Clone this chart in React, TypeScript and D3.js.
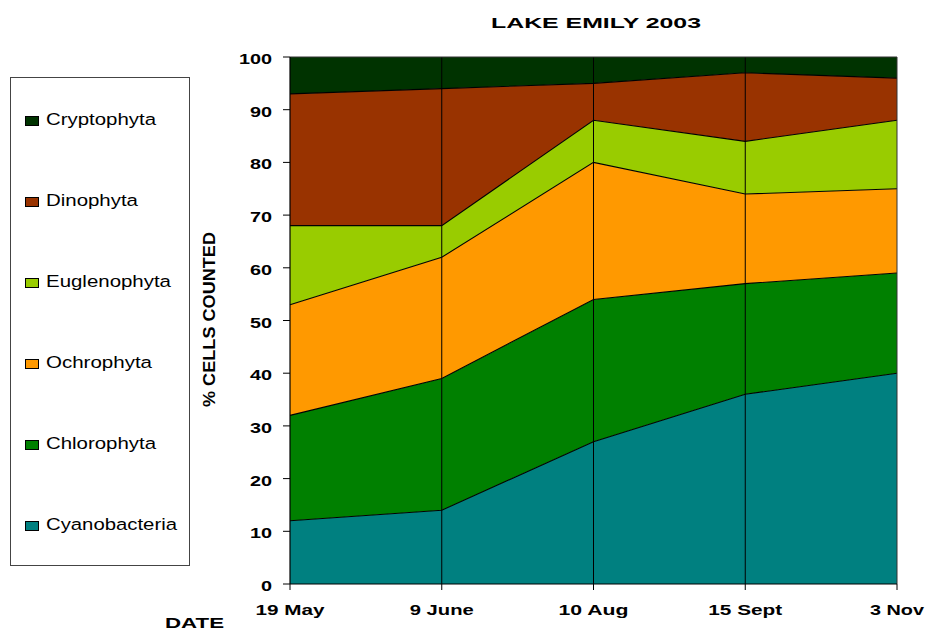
import React from "react";
import * as d3 from "d3";

const dates = ["19 May", "9 June", "10 Aug", "15 Sept", "3 Nov"];
const seriesNames = ["Cyanobacteria", "Chlorophyta", "Ochrophyta", "Euglenophyta", "Dinophyta", "Cryptophyta"];
const cyanobacteria = [12, 14, 27, 36, 40];
const chlorophyta = [20, 25, 27, 21, 19];
const ochrophyta = [21, 23, 26, 17, 16];
const euglenophyta = [15, 6, 8, 10, 13];
const dinophyta = [25, 26, 7, 13, 8];
const cryptophyta = [7, 6, 5, 3, 4];
const colors = ["#008080", "#008000", "#FF9900", "#99CC00", "#993300", "#003300"];
const yTicks = [0, 10, 20, 30, 40, 50, 60, 70, 80, 90, 100];

const seriesValues = [cyanobacteria, chlorophyta, ochrophyta, euglenophyta, dinophyta, cryptophyta];

const xLabelWidths: Record<string, number> = { "19 May": 69, "9 June": 64, "10 Aug": 70, "15 Sept": 74, "3 Nov": 54 };
const legendWidths: Record<string, number> = {
  Cryptophyta: 110,
  Dinophyta: 92,
  Euglenophyta: 125,
  Ochrophyta: 106,
  Chlorophyta: 110,
  Cyanobacteria: 131,
};

export default function App() {
  const W = 929, H = 629;
  const x0 = 290, x1 = 897, yTop = 57, yBot = 584;
  const x = d3.scalePoint<string>().domain(dates).range([x0, x1]);
  const y = d3.scaleLinear().domain([0, 100]).range([yBot, yTop]);
  const table = dates.map((d, i) => {
    const row: any = { date: d };
    seriesNames.forEach((s, j) => (row[s] = seriesValues[j][i]));
    return row;
  });
  const stack = d3.stack<any>().keys(seriesNames)(table);
  const area = d3
    .area<any>()
    .x((d) => x(d.data.date) as number)
    .y0((d) => y(d[0]))
    .y1((d) => y(Math.min(100, d[1])));
  const line = d3
    .line<any>()
    .x((d) => x(d.data.date) as number)
    .y((d) => y(Math.min(100, d[1])));
  const font = "'Liberation Sans', Arial, sans-serif";
  const legendOrder = [...seriesNames].reverse();
  return (
    <svg width={W} height={H} style={{ position: "absolute", left: 0, top: 0, background: "#fff" }} fontFamily={font}>
      <text x={491} y={28} fontWeight="bold" fontSize={15.5} textLength={210} lengthAdjust="spacingAndGlyphs">LAKE EMILY 2003</text>
      {stack.map((s, i) => (
        <path key={s.key} d={area(s) || ""} fill={colors[i]} />
      ))}
      {stack.slice(0, -1).map((s) => (
        <path key={"l" + s.key} d={line(s) || ""} fill="none" stroke="#000" strokeWidth={1.1} />
      ))}
      {dates.slice(1, -1).map((d) => (
        <line key={"v" + d} x1={x(d)} x2={x(d)} y1={yTop} y2={yBot} stroke="#000" strokeWidth={1} />
      ))}
      <line x1={x0} x2={x1} y1={yTop} y2={yTop} stroke="#333" strokeWidth={1} />
      <line x1={x1} x2={x1} y1={yTop} y2={yBot} stroke="#333" strokeWidth={1} />
      <line x1={x0} x2={x0} y1={yTop} y2={yBot} stroke="#000" strokeWidth={1.2} />
      <line x1={x0} x2={x1} y1={yBot} y2={yBot} stroke="#000" strokeWidth={1.2} />
      {yTicks.map((t) => (
        <g key={"y" + t}>
          <line x1={x0 - 7} x2={x0} y1={y(t)} y2={y(t)} stroke="#000" />
          <text
            transform={`translate(272,${y(t) + 7}) scale(1.28,1)`}
            textAnchor="end"
            fontWeight="bold"
            fontSize={15.5}
          >{t}</text>
        </g>
      ))}
      {dates.map((d) => (
        <g key={"x" + d}>
          <line x1={x(d)} x2={x(d)} y1={yBot} y2={yBot + 6} stroke="#000" />
          <text
            x={(x(d) as number) - xLabelWidths[d] / 2}
            y={615}
            fontWeight="bold"
            fontSize={15.5}
            textLength={xLabelWidths[d]}
            lengthAdjust="spacingAndGlyphs"
          >{d}</text>
        </g>
      ))}
      <text x={165} y={627.5} fontWeight="bold" fontSize={15.5} textLength={59} lengthAdjust="spacingAndGlyphs">DATE</text>
      <text
        transform="translate(215,319.5) rotate(-90)"
        x={-87.5}
        fontWeight="bold"
        fontSize={16.5}
        textLength={175}
        lengthAdjust="spacingAndGlyphs"
      >% CELLS COUNTED</text>
      <rect x={10.5} y={77.5} width={179} height={488} fill="#fff" stroke="#444" strokeWidth={1} />
      {legendOrder.map((name, i) => {
        const top = 116 + i * 81;
        const ci = seriesNames.indexOf(name);
        return (
          <g key={"lg" + name}>
            <rect x={25.5} y={top + 0.5} width={13} height={9} fill={colors[ci]} stroke="#000" strokeWidth={1} />
            <text
              x={46}
              y={top + 9}
              fontSize={16.3}
              textLength={legendWidths[name]}
              lengthAdjust="spacingAndGlyphs"
            >{name}</text>
          </g>
        );
      })}
    </svg>
  );
}
